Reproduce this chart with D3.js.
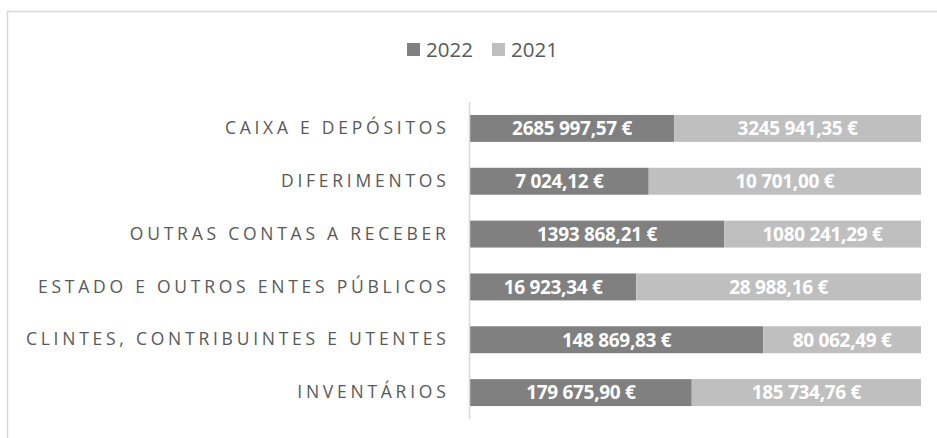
<!DOCTYPE html>
<html><head><meta charset="utf-8">
<script src="https://cdn.jsdelivr.net/npm/d3@7"></script>
<style>body{margin:0;background:#fff}svg{display:block}</style>
</head><body>
<svg id="c" width="937" height="438"></svg>
<script>
const categories = ["CAIXA E DEPÓSITOS","DIFERIMENTOS","OUTRAS CONTAS A RECEBER","ESTADO E OUTROS ENTES PÚBLICOS","CLINTES, CONTRIBUINTES E UTENTES","INVENTÁRIOS"];
const series = ["2022","2021"];
const values2022 = [2685997.57, 7024.12, 1393868.21, 16923.34, 148869.83, 179675.90];
const values2021 = [3245941.35, 10701.00, 1080241.29, 28988.16, 80062.49, 185734.76];
const labels2022 = ["2685 997,57 €","7 024,12 €","1393 868,21 €","16 923,34 €","148 869,83 €","179 675,90 €"];
const labels2021 = ["3245 941,35 €","10 701,00 €","1080 241,29 €","28 988,16 €","80 062,49 €","185 734,76 €"];
const colors = ["#808080","#bfbfbf"];

(function(){
const svg = d3.select("#c");
svg.append("rect").attr("x",7.5).attr("y",11.5).attr("width",1000).attr("height",1000)
  .attr("fill","#fff").attr("stroke","#d9d9d9").attr("stroke-width",1.5);

const pLeft = 470, pRight = 921, pTop = 102, pBottom = 419;
const x = d3.scaleLinear().domain([0,1]).range([pLeft,pRight]);
const y = d3.scaleBand().domain(categories).range([pTop,pBottom]).paddingInner(0.49).paddingOuter(0.245);

const rows = categories.map((c,i)=>{
  const t = values2022[i]+values2021[i];
  return {c, segs:[
    {s:0, x0:0, x1:values2022[i]/t, label:labels2022[i]},
    {s:1, x0:values2022[i]/t, x1:1, label:labels2021[i]}
  ]};
});

const g = svg.append("g");
rows.forEach(r=>{
  r.segs.forEach(s=>{
    g.append("rect").attr("x",x(s.x0)).attr("y",y(r.c)).attr("width",x(s.x1)-x(s.x0))
      .attr("height",y.bandwidth()).attr("fill",colors[s.s]);
    g.append("text").attr("x",(x(s.x0)+x(s.x1))/2).attr("y",y(r.c)+y.bandwidth()/2)
      .attr("dy","0.36em").attr("text-anchor","middle")
      .attr("font-family","Open Sans, sans-serif").attr("font-weight","bold")
      .attr("font-size",19).attr("fill","#fff").attr("letter-spacing","-0.3")
      .text(s.label);
  });
});

const ax = svg.append("g").attr("transform",`translate(${pLeft-0.5},0)`)
  .call(d3.axisLeft(y).tickSize(0).tickPadding(20));
ax.select(".domain").attr("stroke","#d9d9d9").attr("stroke-width",1.5).attr("d",`M0,${pTop}V${pBottom}`);
ax.selectAll("text").attr("font-family","Open Sans, sans-serif").attr("font-size",17.5)
  .attr("fill","#595959").attr("letter-spacing","3.75");

const lg = svg.append("g");
const lx = [407,492];
series.forEach((s,i)=>{
  lg.append("rect").attr("x",lx[i]).attr("y",43).attr("width",13).attr("height",13).attr("fill",colors[i]);
  lg.append("text").attr("x",lx[i]+19).attr("y",49.5).attr("dy","0.36em")
    .attr("font-family","Open Sans, sans-serif").attr("font-size",20.5).attr("fill","#595959").text(s);
});
})();
</script>
</body></html>
